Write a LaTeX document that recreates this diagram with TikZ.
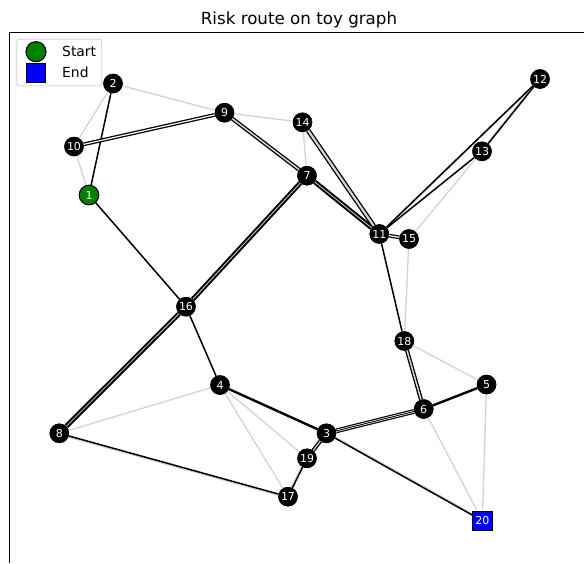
\documentclass[tikz,border=0pt]{standalone}
\usepackage{fontspec}
\setmainfont{DejaVu Sans}
\definecolor{edgegrey}{RGB}{211,211,211}
\definecolor{startgreen}{RGB}{0,128,0}
\definecolor{endblue}{RGB}{0,0,255}
\definecolor{framegrey}{RGB}{204,204,204}
\begin{document}
\begin{tikzpicture}[x=1pt,y=-1pt,
  vtx/.style={circle, fill=black, minimum size=19.5pt, inner sep=0pt, text=white,
              font=\fontsize{11}{13}\selectfont},
  startvtx/.style={vtx, fill=startgreen, draw=black, line width=0.9pt},
  endvtx/.style={rectangle, fill=endblue, draw=black, line width=0.9pt,
              minimum size=19.5pt, inner sep=0pt, text=white, font=\fontsize{11}{13}\selectfont},
  base/.style={draw=edgegrey, line width=1.3pt},
  route/.style={draw=black, line width=1.5pt},
  routebold/.style={draw=black, line width=2.4pt},
  routegrey/.style={draw=black, line width=1.3pt, double=edgegrey, double distance=1.5pt},
  routewhite/.style={draw=black, line width=1.3pt, double=white, double distance=1.2pt},
  routeheavy/.style={draw=black, line width=2pt, double=edgegrey, double distance=0.8pt},
  legtext/.style={anchor=base west, inner sep=0pt, font=\fontsize{13.9}{16}\selectfont},
]
\useasboundingbox (0,0) rectangle (584,563);

% axes frame
\draw[line width=1pt] (9,563) -- (9,32.5) -- (584,32.5);

% title
\node[anchor=base, inner sep=0pt, font=\fontsize{16.7}{20}\selectfont] (title) at (299,24) {Risk route on toy graph};

% vertices
\node[startvtx] (n1) at (89,195) {1};
\node[vtx] (n2) at (113,83.5) {2};
\node[vtx] (n3) at (326.5,433.3) {3};
\node[vtx] (n4) at (220,385) {4};
\node[vtx] (n5) at (486.5,384.5) {5};
\node[vtx] (n6) at (423.7,409) {6};
\node[vtx] (n7) at (307,175.7) {7};
\node[vtx] (n8) at (59.3,433.3) {8};
\node[vtx] (n9) at (224.5,112.7) {9};
\node[vtx] (n10) at (74,146.5) {10};
\node[vtx] (n11) at (379.3,234) {11};
\node[vtx] (n12) at (540,79) {12};
\node[vtx] (n13) at (482,151.3) {13};
\node[vtx] (n14) at (302.5,122.3) {14};
\node[vtx] (n15) at (409,239) {15};
\node[vtx] (n16) at (186,306.7) {16};
\node[vtx] (n17) at (288,496.7) {17};
\node[vtx] (n18) at (404.3,341) {18};
\node[vtx] (n19) at (307,458.3) {19};
\node[endvtx] (n20) at (482.3,520.7) {20};

% underlying graph edges
\draw[base] (n2) -- (n10);
\draw[base] (n2) -- (n9);
\draw[base] (n10) -- (n1);
\draw[base] (n9) -- (n14);
\draw[base] (n14) -- (n7);
\draw[base] (n4) -- (n8);
\draw[base] (n4) -- (n17);
\draw[base] (n4) -- (n19);
\draw[base] (n6) -- (n20);
\draw[base] (n5) -- (n20);
\draw[base] (n18) -- (n5);
\draw[base] (n15) -- (n18);
\draw[base] (n13) -- (n15);
\draw[base, transform canvas={xshift=-1.2pt}] (n12) -- (n13);
\draw[base, transform canvas={xshift=1pt}] (n12) -- (n11);
\draw[base, transform canvas={yshift=-1.3pt}] (n8) -- (n17);
\draw[base, transform canvas={yshift=1.3pt}] (n3) -- (n20);
\draw[base, transform canvas={xshift=-1.3pt}] (n19) -- (n17);

% route edges
\draw[route] (n2) -- (n1);
\draw[route] (n1) -- (n16);
\draw[route] (n16) -- (n4);
\draw[route] (n11) -- (n18);
\draw[route] (n13) -- (n11);
\draw[route] (n12) -- (n13);
\draw[route] (n12) -- (n11);
\draw[route] (n8) -- (n17);
\draw[route] (n3) -- (n20);
\draw[route] (n19) -- (n17);
\draw[routebold] (n4) -- (n3);
\draw[routebold] (n5) -- (n6);
\draw[routewhite] (n10) -- (n9);
\draw[routegrey] (n9) -- (n7);
\draw[routeheavy] (n7) -- (n16);
\draw[routeheavy] (n16) -- (n8);
\draw[routeheavy] (n7) -- (n11);
\draw[routegrey, double distance=2.2pt] (n14) -- (n11);
\draw[routewhite] (n11) -- (n15);
\draw[routegrey] (n18) -- (n6);
\draw[routewhite, double distance=2.4pt, line width=1.2pt] (n6) -- (n3);
\draw[draw=black, line width=0.9pt] (n6) -- (n3);
\draw[routegrey, double distance=1.2pt] (n3) -- (n19);

% vertices redrawn on top of the edges
\node[startvtx] at (n1) {1};
\foreach \v in {2,...,19} {\node[vtx] at (n\v) {\v};}
\node[endvtx] at (n20) {20};

% legend
\draw[draw=framegrey, fill=white, line width=0.8pt, rounded corners=2.5pt] (16.7,39.3) rectangle (101.7,85.7);
\node[startvtx, minimum size=20pt, line width=1.1pt] (legstart) at (36,51.7) {};
\node[endvtx, minimum size=19.5pt, line width=1.1pt] (legend) at (36,73) {};
\node[legtext] (legstarttext) at (62,56.7) {Start};
\node[legtext] (legendtext) at (62,77.3) {End};
\end{tikzpicture}
\end{document}
